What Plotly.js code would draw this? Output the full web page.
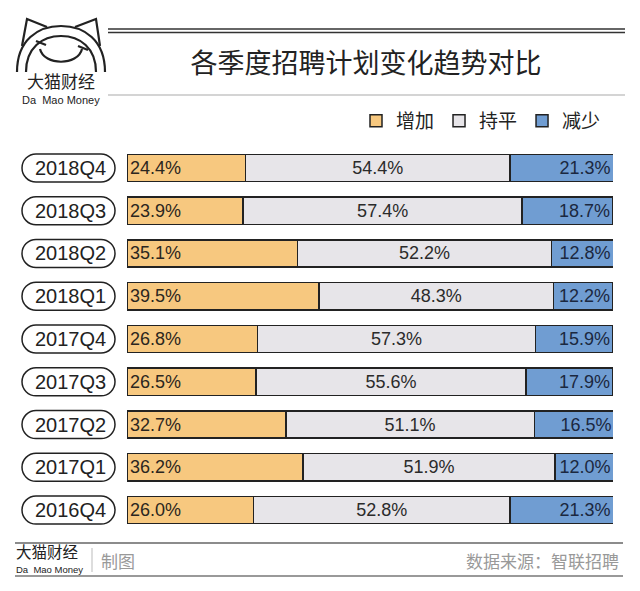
<!DOCTYPE html>
<html>
<head>
<meta charset="utf-8">
<script src="https://cdn.plot.ly/plotly-3.0.1.min.js"></script>
<style>html,body{margin:0;padding:0;background:#fff;}#chart{width:640px;height:591px;}</style>
</head>
<body>
<div id="chart"></div>
<script>
const quarters = ['2018Q4','2018Q3','2018Q2','2018Q1','2017Q4','2017Q3','2017Q2','2017Q1','2016Q4'];
const increase = [24.4, 23.9, 35.1, 39.5, 26.8, 26.5, 32.7, 36.2, 26.0];
const flat     = [54.4, 57.4, 52.2, 48.3, 57.3, 55.6, 51.1, 51.9, 52.8];
const decrease = [21.3, 18.7, 12.8, 12.2, 15.9, 17.9, 16.5, 12.0, 21.3];
const seriesNames = ['增加','持平','减少'];
const titleText = '各季度招聘计划变化趋势对比';
const sourceText = '数据来源：智联招聘';

const W = 640, H = 591;
const px = x => x / W;
const py = y => 1 - y / H;
const idx = quarters.map((_, i) => i);
const numFont = 'Liberation Sans, Arial, sans-serif';
const cjkFont = 'Noto Sans CJK SC, sans-serif';

function mk(name, vals, color, anchor, tcolor) {
  return {
    type: 'bar', orientation: 'h', name: name,
    y: idx, x: vals,
    marker: {color: color, line: {color: '#222', width: 1.5}},
    text: vals.map(v => v.toFixed(1) + '%'),
    textposition: 'inside', insidetextanchor: anchor,
    textfont: {family: numFont, size: 18, color: tcolor},
    hoverinfo: 'skip', cliponaxis: true
  };
}
const traces = [
  mk(seriesNames[0], increase, '#F7C87F', 'start', '#2b2620'),
  mk(seriesNames[1], flat, '#E7E5E9', 'middle', '#2b2b2b'),
  mk(seriesNames[2], decrease, '#709DD2', 'end', '#1b2840')
];

const shapes = [];
const annotations = [];
function line(x0, y0, x1, y1, color, width) {
  shapes.push({type: 'line', xref: 'paper', yref: 'paper', x0: px(x0), y0: py(y0), x1: px(x1), y1: py(y1), line: {color: color, width: width}});
}
// header lines
line(108, 29, 625, 29, '#333', 1.5);
line(108, 32.5, 625, 32.5, '#333', 1.5);
line(108, 95, 625, 95, '#aaa', 1.2);
// footer lines
line(15, 543, 623, 543, '#666', 1.3);
line(15, 576, 623, 576, '#777', 1.5);
line(92, 548, 92, 572, '#bbb', 1);

// pills for quarter labels
const k = 7.73;
const pillPath = `M -32.5,-14 L 32.5,-14 C ${32.5 + k},-14 46.5,${-k} 46.5,0 C 46.5,${k} ${32.5 + k},14 32.5,14 L -32.5,14 C ${-32.5 - k},14 -46.5,${k} -46.5,0 C -46.5,${-k} ${-32.5 - k},-14 -32.5,-14 Z`;
quarters.forEach((q, i) => {
  shapes.push({type: 'path', xref: 'paper', yref: 'y', xsizemode: 'pixel', ysizemode: 'pixel',
    xanchor: px(68.5), yanchor: i, path: pillPath, line: {color: '#222', width: 1.5}, fillcolor: 'rgba(0,0,0,0)'});
  annotations.push({xref: 'paper', yref: 'y', x: px(70), y: i, text: q, showarrow: false,
    font: {family: numFont, size: 20, color: '#222'}, xanchor: 'center', yanchor: 'middle'});
});

// logo (cat face) in pixel coords from top-left
function logoPath(d) {
  shapes.push({type: 'path', xref: 'paper', yref: 'paper', xsizemode: 'pixel', ysizemode: 'pixel',
    xanchor: 0, yanchor: 1, path: d, line: {color: '#222', width: 2.2}, fillcolor: 'rgba(0,0,0,0)'});
}
function pt(x, y) { return x + ',' + (-y); }
logoPath(`M ${pt(17,72)} C ${pt(17,40)} ${pt(38,26)} ${pt(61,26)} C ${pt(84,26)} ${pt(105,40)} ${pt(105,72)}`);
logoPath(`M ${pt(26,72)} C ${pt(26,48)} ${pt(42,36)} ${pt(61,36)} C ${pt(80,36)} ${pt(96,48)} ${pt(96,72)}`);
logoPath(`M ${pt(22,46)} L ${pt(27,19)} L ${pt(47,27)}`);
logoPath(`M ${pt(75,27)} L ${pt(96,19)} L ${pt(100,46)}`);
logoPath(`M ${pt(40,49)} C ${pt(44,66)} ${pt(78,66)} ${pt(82,49)}`);
logoPath(`M ${pt(36,41)} L ${pt(46,45)}`);
logoPath(`M ${pt(78,46)} L ${pt(88,50)}`);
annotations.push({xref: 'paper', yref: 'paper', x: px(61), y: py(81), text: '大猫财经', showarrow: false,
  font: {family: cjkFont, size: 17, color: '#222'}, xanchor: 'center', yanchor: 'middle'});
annotations.push({xref: 'paper', yref: 'paper', x: px(61), y: py(99.5), text: 'Da  Mao Money', showarrow: false,
  font: {family: numFont, size: 11, color: '#222'}, xanchor: 'center', yanchor: 'middle'});

// footer texts
annotations.push({xref: 'paper', yref: 'paper', x: px(14), y: py(551), text: '大猫财经', showarrow: false,
  font: {family: cjkFont, size: 15.5, color: '#222'}, xanchor: 'left', yanchor: 'middle'});
annotations.push({xref: 'paper', yref: 'paper', x: px(14), y: py(569), text: 'Da  Mao Money', showarrow: false,
  font: {family: numFont, size: 9.5, color: '#222'}, xanchor: 'left', yanchor: 'middle'});
annotations.push({xref: 'paper', yref: 'paper', x: px(99), y: py(560), text: '制图', showarrow: false,
  font: {family: cjkFont, size: 17, color: '#999'}, xanchor: 'left', yanchor: 'middle'});
annotations.push({xref: 'paper', yref: 'paper', x: px(621), y: py(560), text: sourceText, showarrow: false,
  font: {family: cjkFont, size: 17, color: '#999'}, xanchor: 'right', yanchor: 'middle'});

const layout = {
  width: W, height: H,
  margin: {l: 0, r: 0, t: 0, b: 0},
  paper_bgcolor: '#fff', plot_bgcolor: '#fff',
  barmode: 'stack', bargap: 0.36,
  title: {text: titleText, x: px(366), xanchor: 'center', y: py(64), yanchor: 'middle', xref: 'paper', yref: 'paper',
    font: {family: cjkFont, size: 27, color: '#222'}},
  xaxis: {domain: [px(127), px(613)], range: [0, 100], showgrid: false, zeroline: false, showticklabels: false, ticks: '', fixedrange: true},
  yaxis: {domain: [py(531.4), py(146.6)], range: [8.5, -0.5], showgrid: false, zeroline: false, showticklabels: false, ticks: '', fixedrange: true},
  showlegend: true,
  legend: {orientation: 'h', x: px(606), xanchor: 'right', y: py(121), yanchor: 'middle',
    font: {family: cjkFont, size: 19, color: '#222'}, itemwidth: 30, traceorder: 'normal', bgcolor: 'rgba(0,0,0,0)'},
  shapes: shapes, annotations: annotations
};

Plotly.newPlot('chart', traces, layout, {displayModeBar: false, staticPlot: true});
</script>
</body>
</html>
